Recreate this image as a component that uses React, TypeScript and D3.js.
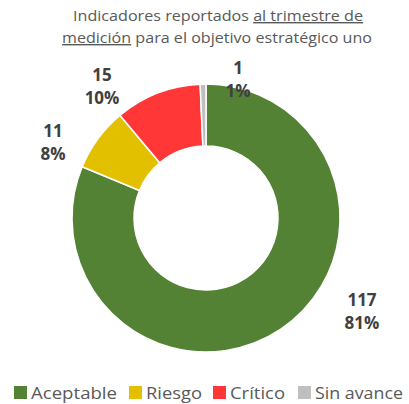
import React from 'react';
import { pie, arc, scaleOrdinal } from 'd3';

const categories = ['Aceptable', 'Riesgo', 'Crítico', 'Sin avance'];
const values = [117, 11, 15, 1];
const percents = ['81%', '8%', '10%', '1%'];
const colors = ['#548235', '#e2c000', '#ff3737', '#bfbfbf'];
// label anchor offsets relative to donut centre (Excel places these by hand)
const labelOffsets: [number, number][] = [[156, 92], [-153, -77], [-104, -133], [32, -140]];

const W = 409;
const H = 404;
const cx = 206;
const cy = 218;
const outerR = 134;
const innerR = 72;

const App = () => {
  const color = scaleOrdinal<string, string>().domain(categories).range(colors);
  const data = categories.map((c, i) => ({ cat: c, value: values[i], pct: percents[i] }));
  const arcs = pie<any>().value(d => d.value).sort(null)(data);
  const arcGen = arc<any>().innerRadius(innerR).outerRadius(outerR);

  const legendX = [14, 129, 213, 298];
  const legendW = [86, 56, 55, 88];

  return (
    <svg width={W} height={H} style={{ position: 'absolute', left: 0, top: 0, fontFamily: '"Open Sans", sans-serif' }}>
      <rect width={W} height={H} fill="#fff" />
      <text x={218} y={21} textAnchor="middle" fontSize={14} fill="#595959" textLength={290} lengthAdjust="spacingAndGlyphs">
        Indicadores reportados <tspan textDecoration="underline">al trimestre de</tspan>
      </text>
      <text x={217} y={43} textAnchor="middle" fontSize={14} fill="#595959" textLength={310} lengthAdjust="spacingAndGlyphs">
        <tspan textDecoration="underline">medición</tspan> para el objetivo estratégico uno
      </text>
      <g transform={`translate(${cx},${cy})`}>
        {arcs.map(a => (
          <path key={a.data.cat} d={arcGen(a) || ''} fill={color(a.data.cat)} stroke="#fff" strokeWidth={1.5} />
        ))}
        {arcs.map((a, i) => (
          <text key={'l' + i} x={labelOffsets[i][0]} textAnchor="middle" fontSize={17} fontWeight="bold" fill="#404040">
            <tspan x={labelOffsets[i][0]} y={labelOffsets[i][1] - 4}>{a.data.value}</tspan>
            <tspan x={labelOffsets[i][0]} y={labelOffsets[i][1] + 19}>{a.data.pct}</tspan>
          </text>
        ))}
      </g>
      <g>
        {categories.map((c, i) => (
          <g key={c} transform={`translate(${legendX[i]},386)`}>
            <rect x={0} y={0} width={13} height={13} fill={color(c)} />
            <text x={17} y={13} fontSize={17} fill="#595959" textLength={legendW[i]} lengthAdjust="spacingAndGlyphs">{c}</text>
          </g>
        ))}
      </g>
    </svg>
  );
};

export default App;
